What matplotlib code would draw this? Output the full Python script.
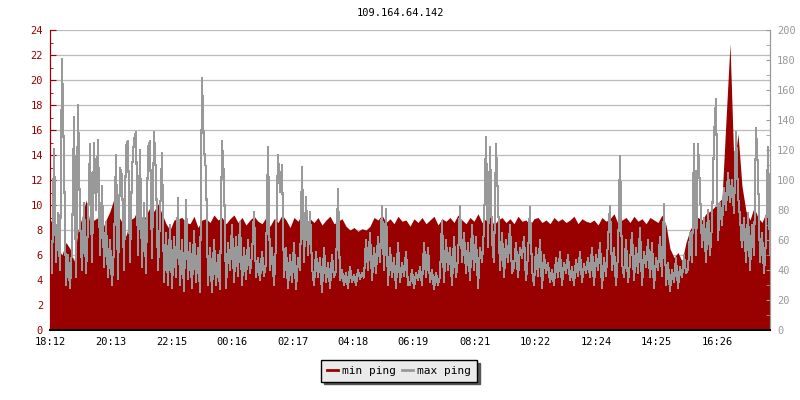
"""Ping graph for 109.164.64.142: min ping (left axis, filled) and
max ping (right axis, line) over ~24 hours starting 18:12."""

import matplotlib
matplotlib.use("Agg")
import numpy as np
import matplotlib.pyplot as plt
from matplotlib.lines import Line2D

TITLE = "109.164.64.142"

# x tick positions (minutes after 18:12) and their labels
TICK_MINUTES = [0, 121, 243, 364, 485, 606, 727, 849, 970, 1092, 1213, 1334]
TICK_LABELS = ["18:12", "20:13", "22:15", "00:16", "02:17", "04:18",
               "06:19", "08:21", "10:22", "12:24", "14:25", "16:26"]

# max ping in ms (right axis), one value every 4 minutes
MAX_PING = [
    60, 38, 121, 45, 78, 40, 181, 112, 30, 50,
    28, 55, 142, 35, 150, 75, 40, 85, 38, 70,
    124, 45, 125, 80, 127, 50, 96, 42, 72, 35,
    60, 30, 55, 117, 34, 108, 103, 40, 123, 126,
    45, 107, 127, 132, 50, 120, 42, 85, 38, 122,
    126, 48, 132, 103, 40, 75, 118, 32, 65, 30,
    70, 28, 62, 35, 88, 30, 60, 26, 87, 34,
    58, 28, 66, 32, 55, 25, 168, 121, 106, 30,
    55, 25, 60, 30, 50, 27, 126, 101, 28, 58,
    # 00:00 region
    40, 70, 32, 62, 36, 72, 30, 55, 34, 60,
    38, 50, 79, 35, 48, 33, 52, 36, 45,
    122, 40, 55, 30, 58, 117, 92, 110,
    35, 55, 28, 50, 32, 58, 27, 48, 40,
    109, 45, 89, 50, 79, 42,
    30, 52, 35, 48, 25, 55, 32, 45, 28, 50, 35, 40, 94,
    33, 40, 30, 38, 28, 42, 32, 37, 30, 40, 34, 38,
    35, 60, 40, 65, 33, 55, 38, 62, 45, 83, 40, 81,
    30, 55, 35, 48, 28, 58, 32, 45, 36, 52, 30,
    # 06:00 region
    30, 40, 28, 38, 33, 42, 30, 58, 35, 55, 32, 40, 27, 38, 30,
    36, 73, 32, 60, 40, 55, 30, 62, 35, 48,
    83, 45, 65, 38, 58,
    33, 70, 40, 62, 28, 55, 45, 68,
    129, 55, 122, 60, 45, 124, 87,
    40, 65, 35, 60, 45, 70, 38,
    42, 58, 35, 55, 48, 62, 33, 50, 82, 40,
    30, 55, 36, 60, 28, 50, 38, 45, 32,
    40, 30, 48, 35, 52, 30, 45, 38, 50, 33, 42, 30, 47, 36, 52, 32, 44, 38, 48,
    # 12:00 region
    35, 55, 30, 50, 40, 58, 28, 48, 36, 60,
    83, 40, 55, 30, 50, 116, 45, 35, 60, 32,
    45, 65, 33, 55, 38, 68, 30, 52, 42, 60, 35, 58, 28, 48, 40, 62, 36, 84,
    30, 45, 26, 40, 32, 48, 28, 42, 35, 50, 38,
    40, 65, 45, 124, 50, 124, 94, 55, 75, 45, 80, 50, 70, 129, 154, 60, 85, 70,
    95, 80, 105, 85, 100, 78, 132, 90, 75,
    55, 75, 45, 78, 40, 70, 50, 135, 106, 45, 65, 38, 60, 122, 50,
]

# min ping in ms (left axis), one value every 8 minutes
MIN_PING = [
    8.8, 8.5, 6.5, 6.0, 7.0, 6.5, 5.5, 8.0, 9.0, 10.4, 8.5, 8.8, 9.0, 8.0, 8.8,
    9.5, 10.5, 9.2, 8.6, 7.5, 8.8, 9.0, 9.7, 8.5, 9.2, 9.8, 9.5, 10.1, 9.3, 8.5,
    8.0, 8.8, 8.9, 9.0, 8.6, 8.5, 9.1, 8.2, 8.8, 8.9, 8.6, 9.2, 8.8, 9.0, 8.5,
    8.9, 9.2, 8.6, 9.0, 8.4, 8.8, 9.1, 8.7, 8.5, 9.0, 8.3, 8.9, 8.6, 9.2, 8.8,
    8.2, 9.0, 8.7, 9.3, 8.5, 8.9, 8.6, 9.0, 8.4, 8.8, 9.1, 8.5, 8.7, 8.9, 8.3,
    8.0, 8.2, 7.9, 8.1, 8.0, 8.3, 9.0, 8.8, 9.2, 8.6, 8.9, 8.5, 9.1, 8.7, 8.8,
    8.3, 8.9, 8.6, 9.0, 8.5, 8.8, 9.1, 8.4, 8.9, 8.7, 9.0, 8.6, 9.2, 8.8, 8.5,
    9.0, 8.7, 9.3, 8.6, 8.9, 9.1, 8.4, 8.8, 9.0, 8.6, 8.9, 8.5, 9.1, 8.7, 8.8,
    8.4, 8.9, 9.0, 8.6, 8.8, 8.5, 9.0, 8.7, 8.9, 8.6, 8.8, 9.1, 8.5, 8.9, 8.7,
    8.6, 8.8, 8.4, 9.0, 8.7, 8.9, 9.3, 8.5, 8.8, 9.0, 8.6, 9.1, 8.7, 8.9, 8.5,
    9.0, 8.8, 8.6, 9.2, 8.4,
    6.5, 5.8, 6.2, 5.5, 7.0,
    8.0, 8.6, 9.0, 8.8, 9.3, 9.5, 9.8, 10.2, 10.5,
    16.8, 22.9, 13.0, 15.7,
    11.5, 9.5, 8.8, 9.8, 9.0, 8.6, 9.4, 8.9,
]

RED = "#990000"
GRAY = "#999999"
FONT = "DejaVu Sans Mono"


def plot():
    plt.rcParams["font.family"] = FONT
    plt.rcParams["font.size"] = 7.5

    fig = plt.figure(figsize=(8, 4), dpi=100)
    ax = fig.add_axes([50 / 800, 70 / 400, 720 / 800, 300 / 400])
    ax2 = ax.twinx()

    t_min = np.arange(len(MIN_PING)) * 8
    t_max = np.arange(len(MAX_PING)) * 4

    # min ping: solid fill from zero; max ping: thin line drawn over it
    ax.fill_between(t_min, 0, MIN_PING, color=RED, lw=0, antialiased=False,
                    zorder=2)
    ax2.plot(t_max, MAX_PING, color=GRAY, lw=0.75, antialiased=False)

    # ---- left axis (min ping) --------------------------------------------
    ax.set_xlim(0, 1440)
    ax.set_ylim(0, 24)
    ax.set_yticks(np.arange(0, 25, 2))
    ax.set_yticks(np.arange(0, 25, 1), minor=True)
    ax.yaxis.grid(True, color="#bbbbbb", lw=0.9)
    ax.set_axisbelow(True)
    ax.tick_params(axis="y", which="both", direction="in", colors=RED,
                   labelcolor=RED, pad=5)
    ax.tick_params(axis="y", which="major", length=4)
    ax.tick_params(axis="y", which="minor", length=2.5)

    ax.set_xticks(TICK_MINUTES)
    ax.set_xticklabels(TICK_LABELS)
    ax.tick_params(axis="x", direction="in", length=4, color="black", pad=5)

    # ---- right axis (max ping) -------------------------------------------
    ax2.set_ylim(0, 200)
    ax2.set_yticks(np.arange(0, 201, 20))
    ax2.set_yticks(np.arange(0, 201, 10), minor=True)
    ax2.tick_params(axis="y", which="both", direction="in", colors=GRAY,
                    labelcolor=GRAY, length=3, pad=5)

    for a in (ax, ax2):
        a.spines["top"].set_visible(False)
        a.spines["left"].set_color(RED)
        a.spines["right"].set_color(GRAY)
        a.spines["bottom"].set_color("black")
        a.spines["bottom"].set_linewidth(1.4)

    fig.text(0.5, 1 - 13 / 400, TITLE, ha="center", va="center", fontsize=7.5)

    handles = [Line2D([], [], color=RED, lw=2), Line2D([], [], color=GRAY, lw=2)]
    fig.legend(handles, ["min ping", "max ping"], loc="center",
               bbox_to_anchor=(399 / 800, 1 - 371 / 400), ncol=2,
               fancybox=False, edgecolor="black", facecolor="#eaeaea",
               framealpha=1, shadow={"color": "#555555", "alpha": 1},
               handlelength=1.0, handletextpad=0.4, columnspacing=0.5,
               borderpad=0.5, fontsize=8)

    fig.savefig("out.png", dpi=100)
    plt.close(fig)


if __name__ == "__main__":
    plot()
